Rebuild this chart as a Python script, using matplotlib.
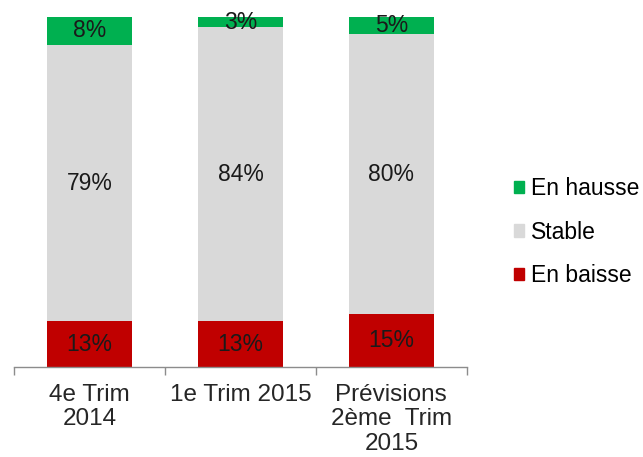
import matplotlib
matplotlib.use("Agg")
import matplotlib.pyplot as plt
import matplotlib.patches as mpatches
import numpy as np

plt.rcParams["font.family"] = ["Liberation Sans", "DejaVu Sans"]

CATEGORIES = ["4e Trim\n2014", "1e Trim 2015", "Prévisions\n2ème  Trim\n2015"]
EN_BAISSE  = [13, 13, 15]
STABLE     = [79, 84, 80]
EN_HAUSSE  = [8, 3, 5]
SERIES     = ["En baisse", "Stable", "En hausse"]
COLORS     = {"En baisse": "#C00000", "Stable": "#D9D9D9", "En hausse": "#00B050"}

fig = plt.figure(figsize=(6.43, 4.57), dpi=100)
ax = fig.add_axes([0.022, 0.197, 0.704, 0.766])

x = np.arange(len(CATEGORIES))
bottom = np.zeros(len(CATEGORIES))
for name, vals in zip(SERIES, [EN_BAISSE, STABLE, EN_HAUSSE]):
    vals = np.array(vals, dtype=float)
    ax.bar(x, vals, width=0.56, bottom=bottom, color=COLORS[name], linewidth=0)
    for xi, b, v in zip(x, bottom, vals):
        ax.text(xi, b + v / 2, f"{int(v)}%", ha="center", va="center",
                fontsize=16.5, color="#1a1a1a")
    bottom += vals

ax.set_xlim(-0.5, 2.5)
ax.set_ylim(0, 100)
for s in ["top", "right", "left"]:
    ax.spines[s].set_visible(False)
ax.spines["bottom"].set_color("#8c8c8c")
ax.spines["bottom"].set_linewidth(1.0)
ax.set_yticks([])

# ticks between categories, labels centred under bars
ax.set_xticks([-0.5, 0.5, 1.5, 2.5])
ax.set_xticklabels([])
ax.tick_params(axis="x", direction="out", length=6, color="#8c8c8c", width=1.0)
for xi, lab in zip(x, CATEGORIES):
    ax.text(xi, -4.8, lab, ha="center", va="top", fontsize=17.5,
            color="#262626", linespacing=1.15)

handles = [mpatches.Patch(color=COLORS[n], label=n) for n in reversed(SERIES)]
fig.legend(handles=handles, loc="center left", bbox_to_anchor=(0.785, 0.492),
           frameon=False, fontsize=16.5, handlelength=0.45, handleheight=0.45,
           handletextpad=0.3, labelspacing=0.9, borderaxespad=0)

fig.savefig("out.png", dpi=100)
